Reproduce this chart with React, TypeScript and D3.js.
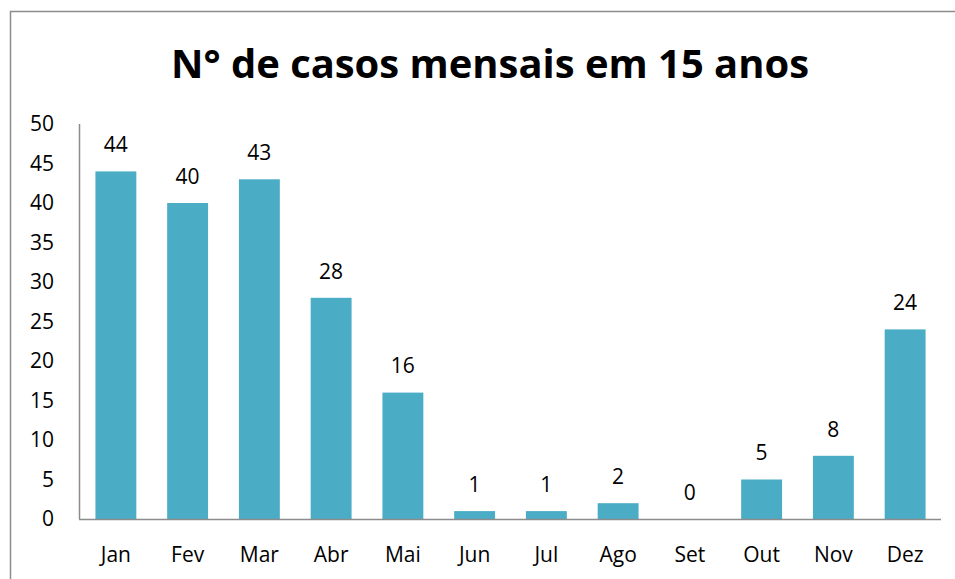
import React from "react";
import * as d3 from "d3";

const months = ["Jan", "Fev", "Mar", "Abr", "Mai", "Jun", "Jul", "Ago", "Set", "Out", "Nov", "Dez"];
const cases = [44, 40, 43, 28, 16, 1, 1, 2, 0, 5, 8, 24];
const yTicks = [0, 5, 10, 15, 20, 25, 30, 35, 40, 45, 50];
const title = "N° de casos mensais em 15 anos";

const W = 955;
const H = 579;
const font = "'Open Sans', 'Noto Sans', sans-serif";

export default function App() {
  const left = 80, right = 941, top = 124, bottom = 519;
  const x = d3.scaleBand<string>().domain(months).range([left, right]).paddingInner(0.43).paddingOuter(0.215);
  const y = d3.scaleLinear().domain([0, 50]).range([bottom, top]);

  return (
    <svg width={W} height={H} style={{ position: "absolute", left: 0, top: 0 }}>
      <rect x={0} y={0} width={W} height={H} fill="#fff" />
      <path d={`M10.5,${H} V11.5 H${W}`} fill="none" stroke="#8c8c8c" strokeWidth={1.5} />
      <text x={490} y={78} textAnchor="middle" fontFamily={font} fontWeight="bold" fontSize={40} textLength={638} lengthAdjust="spacingAndGlyphs" fill="#000">{title}</text>
      {yTicks.map((t) => (
        <text key={t} x={54} y={y(t)} dy="0.35em" textAnchor="end" fontFamily={font} fontSize={21} fill="#000">{t}</text>
      ))}
      {months.map((m, i) => (
        <g key={m}>
          <rect x={x(m)} y={y(cases[i])} width={x.bandwidth()} height={y(0) - y(cases[i])} fill="#4BACC6" />
          <text x={(x(m) as number) + x.bandwidth() / 2} y={y(cases[i]) - 26.5} dy="0.35em" textAnchor="middle" fontFamily={font} fontSize={21} fill="#000">{cases[i]}</text>
          <text x={(x(m) as number) + x.bandwidth() / 2} y={555} dy="0.35em" textAnchor="middle" fontFamily={font} fontSize={21} fill="#000">{m}</text>
        </g>
      ))}
      <line x1={left - 0.5} x2={left - 0.5} y1={top} y2={bottom} stroke="#8c8c8c" strokeWidth={1.5} />
      <line x1={left - 1} x2={right} y1={bottom + 0.5} y2={bottom + 0.5} stroke="#8c8c8c" strokeWidth={1.5} />
    </svg>
  );
}
